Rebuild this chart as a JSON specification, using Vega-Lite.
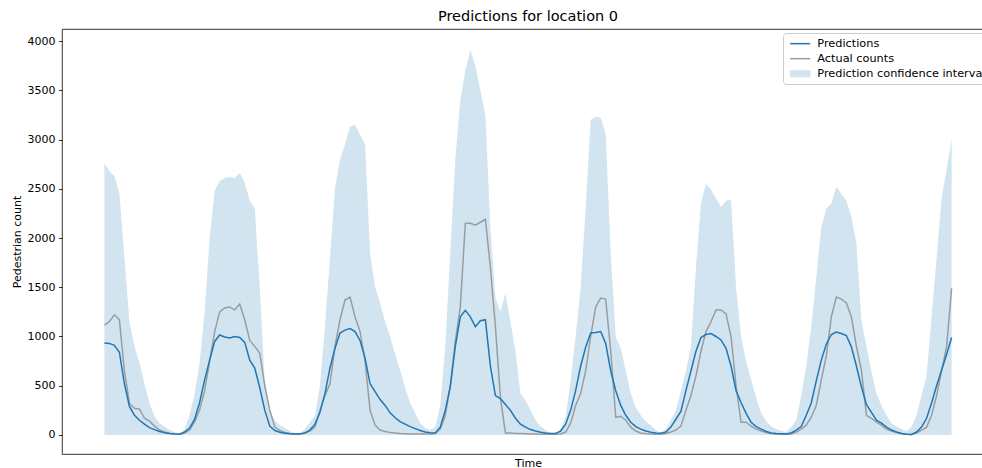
{
  "$schema": "https://vega.github.io/schema/vega-lite/v6.json",
  "autosize": "none",
  "width": 932,
  "height": 425,
  "padding": {"left": 62, "top": 29, "right": 0, "bottom": 14},
  "background": "white",
  "config": {
    "font": "DejaVu Sans",
    "view": {"stroke": "#000", "strokeWidth": 0.8}
  },
  "title": {"text": "Predictions for location 0", "fontSize": 14.5, "fontWeight": "normal", "color": "#000", "offset": 5, "font": "DejaVu Sans"},
  "data": {"values": [
    {"t":0,"pred":935,"actual":1115,"upper":2760},
    {"t":1,"pred":930,"actual":1150,"upper":2680},
    {"t":2,"pred":910,"actual":1220,"upper":2630},
    {"t":3,"pred":840,"actual":1170,"upper":2455},
    {"t":4,"pred":520,"actual":650,"upper":1800},
    {"t":5,"pred":290,"actual":320,"upper":1150},
    {"t":6,"pred":200,"actual":270,"upper":900},
    {"t":7,"pred":150,"actual":265,"upper":730},
    {"t":8,"pred":110,"actual":170,"upper":520},
    {"t":9,"pred":75,"actual":140,"upper":320},
    {"t":10,"pred":55,"actual":90,"upper":190},
    {"t":11,"pred":35,"actual":50,"upper":120},
    {"t":12,"pred":22,"actual":30,"upper":85},
    {"t":13,"pred":15,"actual":18,"upper":50},
    {"t":14,"pred":10,"actual":12,"upper":30},
    {"t":15,"pred":8,"actual":8,"upper":10},
    {"t":16,"pred":30,"actual":20,"upper":60},
    {"t":17,"pred":70,"actual":50,"upper":200},
    {"t":18,"pred":160,"actual":130,"upper":420},
    {"t":19,"pred":330,"actual":255,"upper":730},
    {"t":20,"pred":560,"actual":450,"upper":1250},
    {"t":21,"pred":760,"actual":750,"upper":2000},
    {"t":22,"pred":950,"actual":1050,"upper":2480},
    {"t":23,"pred":1015,"actual":1250,"upper":2580},
    {"t":24,"pred":995,"actual":1290,"upper":2610},
    {"t":25,"pred":985,"actual":1300,"upper":2620},
    {"t":26,"pred":1000,"actual":1270,"upper":2610},
    {"t":27,"pred":990,"actual":1330,"upper":2660},
    {"t":28,"pred":940,"actual":1170,"upper":2560},
    {"t":29,"pred":760,"actual":960,"upper":2380},
    {"t":30,"pred":680,"actual":900,"upper":2300},
    {"t":31,"pred":480,"actual":830,"upper":1500},
    {"t":32,"pred":250,"actual":500,"upper":530},
    {"t":33,"pred":90,"actual":250,"upper":255},
    {"t":34,"pred":45,"actual":80,"upper":150},
    {"t":35,"pred":28,"actual":45,"upper":100},
    {"t":36,"pred":18,"actual":25,"upper":70},
    {"t":37,"pred":12,"actual":15,"upper":40},
    {"t":38,"pred":9,"actual":10,"upper":20},
    {"t":39,"pred":10,"actual":10,"upper":15},
    {"t":40,"pred":20,"actual":20,"upper":60},
    {"t":41,"pred":50,"actual":40,"upper":130},
    {"t":42,"pred":110,"actual":80,"upper":200},
    {"t":43,"pred":230,"actual":250,"upper":500},
    {"t":44,"pred":420,"actual":400,"upper":1100},
    {"t":45,"pred":680,"actual":520,"upper":1800},
    {"t":46,"pred":880,"actual":900,"upper":2500},
    {"t":47,"pred":1035,"actual":1170,"upper":2800},
    {"t":48,"pred":1065,"actual":1370,"upper":2950},
    {"t":49,"pred":1080,"actual":1400,"upper":3130},
    {"t":50,"pred":1050,"actual":1200,"upper":3150},
    {"t":51,"pred":960,"actual":1050,"upper":3045},
    {"t":52,"pred":780,"actual":750,"upper":2950},
    {"t":53,"pred":520,"actual":250,"upper":1850},
    {"t":54,"pred":440,"actual":100,"upper":1500},
    {"t":55,"pred":360,"actual":50,"upper":1340},
    {"t":56,"pred":300,"actual":35,"upper":1150},
    {"t":57,"pred":225,"actual":25,"upper":995},
    {"t":58,"pred":175,"actual":20,"upper":820},
    {"t":59,"pred":135,"actual":15,"upper":660},
    {"t":60,"pred":110,"actual":12,"upper":480},
    {"t":61,"pred":85,"actual":10,"upper":325},
    {"t":62,"pred":65,"actual":10,"upper":220},
    {"t":63,"pred":45,"actual":10,"upper":120},
    {"t":64,"pred":30,"actual":10,"upper":70},
    {"t":65,"pred":22,"actual":10,"upper":50},
    {"t":66,"pred":20,"actual":15,"upper":80},
    {"t":67,"pred":80,"actual":60,"upper":300},
    {"t":68,"pred":250,"actual":200,"upper":900},
    {"t":69,"pred":490,"actual":500,"upper":1850},
    {"t":70,"pred":900,"actual":950,"upper":2800},
    {"t":71,"pred":1200,"actual":1300,"upper":3400},
    {"t":72,"pred":1265,"actual":2150,"upper":3700},
    {"t":73,"pred":1200,"actual":2150,"upper":3910},
    {"t":74,"pred":1100,"actual":2130,"upper":3750},
    {"t":75,"pred":1160,"actual":2160,"upper":3500},
    {"t":76,"pred":1170,"actual":2190,"upper":3250},
    {"t":77,"pred":700,"actual":1700,"upper":2100},
    {"t":78,"pred":400,"actual":1100,"upper":1400},
    {"t":79,"pred":370,"actual":380,"upper":1250},
    {"t":80,"pred":310,"actual":20,"upper":1440},
    {"t":81,"pred":250,"actual":20,"upper":1150},
    {"t":82,"pred":170,"actual":15,"upper":850},
    {"t":83,"pred":110,"actual":15,"upper":420},
    {"t":84,"pred":80,"actual":12,"upper":350},
    {"t":85,"pred":55,"actual":10,"upper":250},
    {"t":86,"pred":40,"actual":10,"upper":150},
    {"t":87,"pred":28,"actual":8,"upper":90},
    {"t":88,"pred":20,"actual":8,"upper":50},
    {"t":89,"pred":15,"actual":8,"upper":20},
    {"t":90,"pred":15,"actual":8,"upper":10},
    {"t":91,"pred":40,"actual":10,"upper":60},
    {"t":92,"pred":110,"actual":30,"upper":180},
    {"t":93,"pred":250,"actual":120,"upper":550},
    {"t":94,"pred":450,"actual":300,"upper":1000},
    {"t":95,"pred":700,"actual":420,"upper":1500},
    {"t":96,"pred":890,"actual":650,"upper":2300},
    {"t":97,"pred":1035,"actual":1000,"upper":3200},
    {"t":98,"pred":1040,"actual":1300,"upper":3230},
    {"t":99,"pred":1050,"actual":1390,"upper":3220},
    {"t":100,"pred":930,"actual":1380,"upper":3050},
    {"t":101,"pred":650,"actual":850,"upper":1850},
    {"t":102,"pred":450,"actual":180,"upper":995},
    {"t":103,"pred":300,"actual":190,"upper":880},
    {"t":104,"pred":200,"actual":150,"upper":650},
    {"t":105,"pred":130,"actual":80,"upper":420},
    {"t":106,"pred":85,"actual":40,"upper":280},
    {"t":107,"pred":60,"actual":20,"upper":200},
    {"t":108,"pred":40,"actual":12,"upper":140},
    {"t":109,"pred":28,"actual":10,"upper":100},
    {"t":110,"pred":20,"actual":8,"upper":50},
    {"t":111,"pred":18,"actual":8,"upper":20},
    {"t":112,"pred":30,"actual":15,"upper":60},
    {"t":113,"pred":80,"actual":30,"upper":150},
    {"t":114,"pred":160,"actual":50,"upper":250},
    {"t":115,"pred":240,"actual":90,"upper":450},
    {"t":116,"pred":450,"actual":250,"upper":650},
    {"t":117,"pred":650,"actual":400,"upper":900},
    {"t":118,"pred":850,"actual":600,"upper":1700},
    {"t":119,"pred":990,"actual":850,"upper":2350},
    {"t":120,"pred":1020,"actual":1050,"upper":2550},
    {"t":121,"pred":1030,"actual":1150,"upper":2490},
    {"t":122,"pred":1000,"actual":1270,"upper":2400},
    {"t":123,"pred":965,"actual":1270,"upper":2315},
    {"t":124,"pred":880,"actual":1230,"upper":2380},
    {"t":125,"pred":700,"actual":1000,"upper":2385},
    {"t":126,"pred":450,"actual":500,"upper":1500},
    {"t":127,"pred":330,"actual":130,"upper":1000},
    {"t":128,"pred":220,"actual":130,"upper":750},
    {"t":129,"pred":130,"actual":90,"upper":560},
    {"t":130,"pred":85,"actual":60,"upper":380},
    {"t":131,"pred":60,"actual":40,"upper":225},
    {"t":132,"pred":35,"actual":25,"upper":140},
    {"t":133,"pred":20,"actual":15,"upper":90},
    {"t":134,"pred":15,"actual":10,"upper":60},
    {"t":135,"pred":12,"actual":8,"upper":40},
    {"t":136,"pred":10,"actual":8,"upper":30},
    {"t":137,"pred":20,"actual":10,"upper":80},
    {"t":138,"pred":50,"actual":30,"upper":150},
    {"t":139,"pred":85,"actual":60,"upper":400},
    {"t":140,"pred":200,"actual":100,"upper":700},
    {"t":141,"pred":325,"actual":180,"upper":1100},
    {"t":142,"pred":550,"actual":300,"upper":1600},
    {"t":143,"pred":760,"actual":560,"upper":2110},
    {"t":144,"pred":920,"actual":800,"upper":2300},
    {"t":145,"pred":1020,"actual":1200,"upper":2350},
    {"t":146,"pred":1045,"actual":1400,"upper":2520},
    {"t":147,"pred":1030,"actual":1380,"upper":2450},
    {"t":148,"pred":1010,"actual":1340,"upper":2380},
    {"t":149,"pred":895,"actual":1200,"upper":2215},
    {"t":150,"pred":700,"actual":900,"upper":1950},
    {"t":151,"pred":490,"actual":660,"upper":1170},
    {"t":152,"pred":310,"actual":200,"upper":900},
    {"t":153,"pred":230,"actual":170,"upper":650},
    {"t":154,"pred":150,"actual":130,"upper":420},
    {"t":155,"pred":120,"actual":100,"upper":300},
    {"t":156,"pred":80,"actual":60,"upper":200},
    {"t":157,"pred":50,"actual":40,"upper":120},
    {"t":158,"pred":30,"actual":25,"upper":90},
    {"t":159,"pred":15,"actual":15,"upper":60},
    {"t":160,"pred":8,"actual":8,"upper":40},
    {"t":161,"pred":5,"actual":5,"upper":80},
    {"t":162,"pred":30,"actual":20,"upper":200},
    {"t":163,"pred":80,"actual":50,"upper":400},
    {"t":164,"pred":170,"actual":80,"upper":600},
    {"t":165,"pred":325,"actual":200,"upper":1200},
    {"t":166,"pred":500,"actual":400,"upper":1800},
    {"t":167,"pred":660,"actual":650,"upper":2400},
    {"t":168,"pred":820,"actual":900,"upper":2700},
    {"t":169,"pred":990,"actual":1490,"upper":3000}
  ]},
  "encoding": {
    "x": {"field": "t", "type": "quantitative",
      "scale": {"domain": [-8.45, 177.45], "nice": false, "zero": false},
      "axis": {"title": "Time", "labels": false, "ticks": false, "domain": false, "grid": false, "titleFontSize": 11, "titleFontWeight": "normal", "titleColor": "#000", "titlePadding": 3, "titleFont": "DejaVu Sans"}}
  },
  "layer": [
    {
      "mark": {"type": "area", "opacity": 1},
      "encoding": {
        "y": {"field": "upper", "type": "quantitative",
          "scale": {"domain": [-193, 4122], "nice": false, "zero": false},
          "axis": {"title": "Pedestrian count", "values": [0,500,1000,1500,2000,2500,3000,3500,4000], "format": "d", "grid": false, "domain": false, "tickSize": 3.5, "tickColor": "#000", "tickWidth": 0.8, "labelFontSize": 11, "labelColor": "#000", "labelPadding": 3.5, "labelFont": "DejaVu Sans", "titleFont": "DejaVu Sans", "titleFontSize": 11, "titleFontWeight": "normal", "titleColor": "#000", "titlePadding": 5}},
        "y2": {"datum": 0},
        "color": {"datum": "Prediction confidence interval", "type": "nominal",
          "scale": {"domain": ["Predictions", "Actual counts", "Prediction confidence interval"], "range": ["#1f77b4", "#9a9da0", "#d2e4f0"]},
          "legend": {
            "title": null, "orient": "none", "legendX": 721, "legendY": 4, "direction": "vertical",
            "padding": 5, "rowPadding": 3, "symbolSize": 225, "labelOffset": 18, "labelLimit": 400,
            "labelFontSize": 11.3, "labelColor": "#000", "labelFont": "DejaVu Sans",
            "fillColor": "rgba(255,255,255,0.85)", "strokeColor": "#cccccc", "cornerRadius": 3,
            "symbolOpacity": 1,
            "encode": {"symbols": {"update": {
              "shape": {"signal": "datum.value === 'Prediction confidence interval' ? 'M-0.47,-0.45H2.2V0.45H-0.47Z' : 'M-0.47,0H2.2'"},
              "fill": {"signal": "datum.value === 'Prediction confidence interval' ? '#d2e4f0' : 'transparent'"},
              "stroke": {"signal": "datum.value === 'Predictions' ? '#1f77b4' : (datum.value === 'Actual counts' ? '#9a9da0' : '#c6dcec')"},
              "strokeWidth": {"signal": "datum.value === 'Prediction confidence interval' ? 0.5 : 1.5"},
              "opacity": {"value": 1}
            }}}
          }}
      }
    },
    {
      "mark": {"type": "line", "strokeWidth": 1.5},
      "encoding": {
        "y": {"field": "actual", "type": "quantitative"},
        "color": {"datum": "Actual counts", "type": "nominal"}
      }
    },
    {
      "mark": {"type": "line", "strokeWidth": 1.5},
      "encoding": {
        "y": {"field": "pred", "type": "quantitative"},
        "color": {"datum": "Predictions", "type": "nominal"}
      }
    }
  ]
}
